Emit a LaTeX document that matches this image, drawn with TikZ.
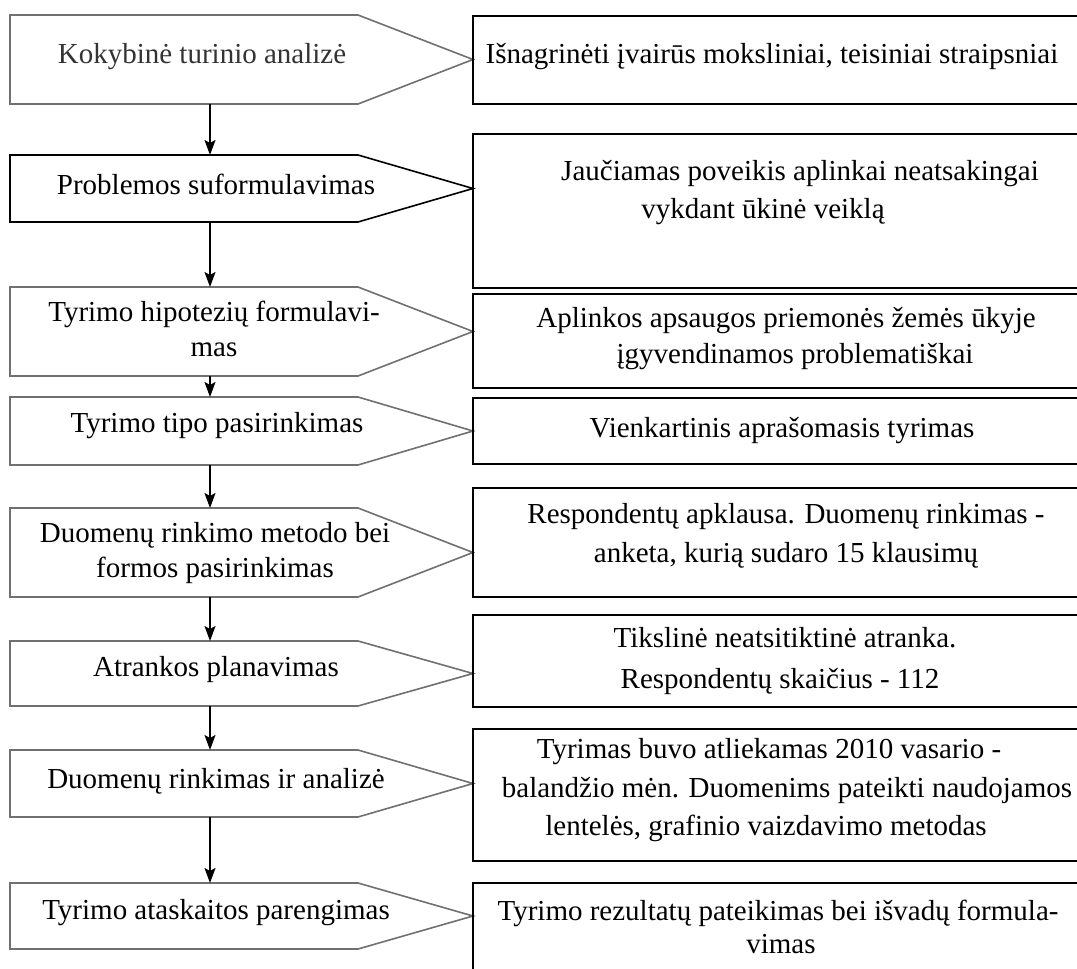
\documentclass[tikz,border=0pt]{standalone}
\usepackage{fontspec}
\setmainfont{Liberation Serif}
\usetikzlibrary{arrows.meta,calc}
\definecolor{pgray}{RGB}{112,112,112}
\begin{document}
\begin{tikzpicture}[x=1pt,y=-1pt,
  every node/.style={font=\fontsize{29}{35}\selectfont, inner sep=0pt},
  pent/.style={line width=1.6pt, line join=miter},
  rbox/.style={draw=black, line width=1.8pt},
  arr/.style={-{Stealth[length=15pt,width=11pt,inset=3pt]}, line width=1.5pt},
  lt/.style={align=center},
  rt/.style={anchor=base}]
\useasboundingbox (0,0) rectangle (1077,969);
% left pentagons
\foreach \t/\b/\n/\c in {15/104/1/pgray,155/222/2/black,287/376/3/pgray,397/465/4/pgray,508/597/5/pgray,641/706/6/pgray,750/817/7/pgray,883/949/8/pgray}{
  \draw[pent,draw=\c] (10,\t) -- (358,\t) -- (473,{(\t+\b)/2}) -- (358,\b) -- (10,\b) -- cycle;
  \coordinate (p\n n) at (210,\t);
  \coordinate (p\n s) at (210,\b);
}
% right boxes
\foreach \t/\b in {16/104,134/288,294/388,398/464,488/597,615/707,729/861,883/995}{
  \draw[rbox] (473,\t) rectangle (1100,\b);
}
% left texts
\node[lt,text=black!80] (L1) at (202,57) {Kokybinė turinio analizė};
\node[lt] (L2) at (216,184) {Problemos suformulavimas};
\node[lt] (L3) at (214,329) {Tyrimo hipotezių formulavi-\\mas};
\node[lt] (L4) at (217,426) {Tyrimo tipo pasirinkimas};
\node[lt] (L5) at (215,553) {Duomenų rinkimo metodo bei\\formos pasirinkimas};
\node[lt] (L6) at (216,670) {Atrankos planavimas};
\node[lt] (L7) at (216,781) {Duomenų rinkimas ir analizė};
\node[lt] (L8) at (216,913) {Tyrimo ataskaitos parengimas};
% right texts
\node[rt] (R1) at (772,63) {Išnagrinėti įvairūs moksliniai, teisiniai straipsniai};
\node[rt] (R2a) at (800,180) {Jaučiamas poveikis aplinkai neatsakingai};
\node[rt] (R2b) at (763,218) {vykdant ūkinė veiklą};
\node[rt] (R3a) at (786,327) {Aplinkos apsaugos priemonės žemės ūkyje};
\node[rt] (R3b) at (795,363) {įgyvendinamos problematiškai};
\node[rt] (R4) at (782,437) {Vienkartinis aprašomasis tyrimas};
\node[rt] (R5a) at (786,523) {Respondentų apklausa. Duomenų rinkimas -};
\node[rt] (R5b) at (786,562) {anketa, kurią sudaro 15 klausimų};
\node[rt] (R6a) at (785,647) {Tikslinė neatsitiktinė atranka.};
\node[rt] (R6b) at (780,688) {Respondentų skaičius - 112};
\node[rt] (R7a) at (769,758) {Tyrimas buvo atliekamas 2010 vasario -};
\node[rt] (R7b) at (787,797) {balandžio mėn. Duomenims pateikti naudojamos};
\node[rt] (R7c) at (766,835) {lentelės, grafinio vaizdavimo metodas};
\node[rt] (R8a) at (778,920) {Tyrimo rezultatų pateikimas bei išvadų formula-};
\node[rt] (R8b) at (781,953) {vimas};
% arrows
\draw[arr] (p1s) -- (p2n);
\draw[arr] (p2s) -- (p3n);
\draw[arr] (p3s) -- (p4n);
\draw[arr] (p4s) -- (p5n);
\draw[arr] (p5s) -- (p6n);
\draw[arr] (p6s) -- (p7n);
\draw[arr] (p7s) -- (p8n);
\end{tikzpicture}
\end{document}
